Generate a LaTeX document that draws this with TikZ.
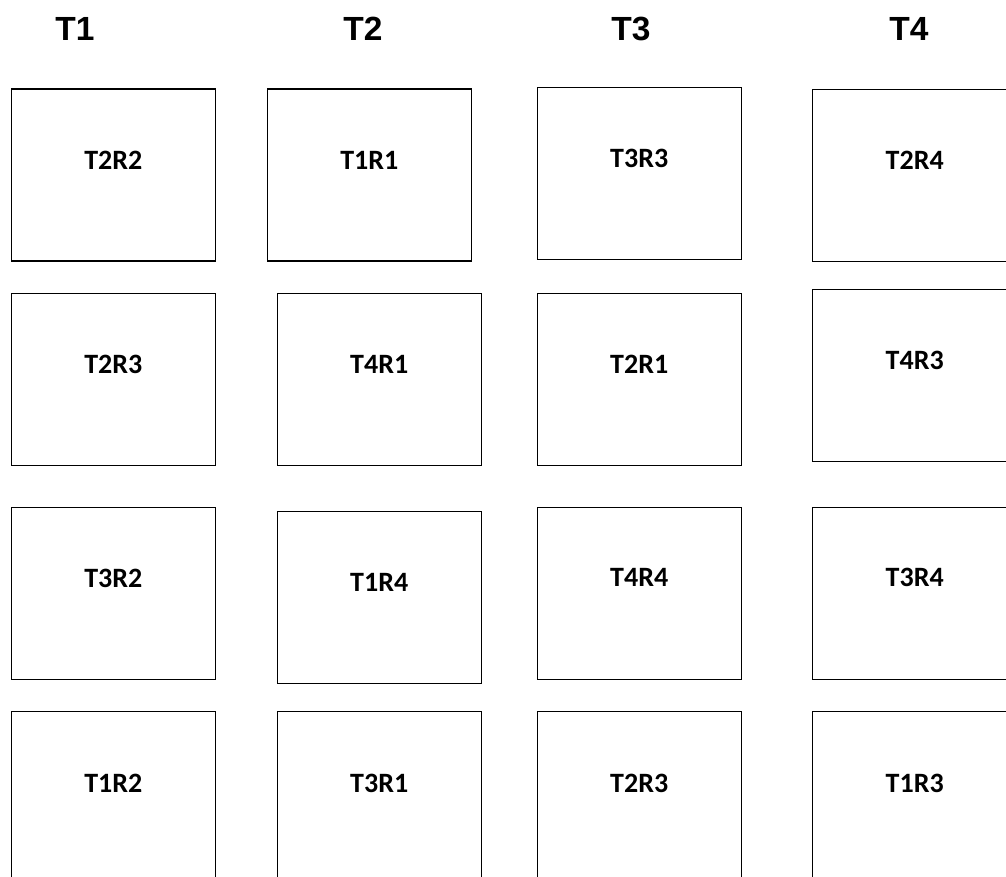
\documentclass[tikz,border=0pt]{standalone}
\usepackage{fontspec}
\usepackage{tikz}
\usetikzlibrary{positioning}
\newfontfamily\headfont{Liberation Sans}
\newfontfamily\cellfont{Carlito}

\begin{document}
\begin{tikzpicture}[x=1pt, y=-1pt,
		cell/.style={draw, line width=1.2pt, rectangle, inner sep=0pt, minimum width=204pt, minimum height=172pt},
		head/.style={font=\headfont\bfseries\fontsize{33.5}{40}\selectfont, inner sep=0pt},
		tag/.style={font=\cellfont\bfseries\fontsize{28}{34}\selectfont, inner sep=0pt}]
			\useasboundingbox (0, 0) rectangle (1006, 877);
			\clip (0, 0) rectangle (1006, 877);
			% Column heads:
			\node[head](H1) at (75, 29){T1};
			\node[head](H2) at (363, 29){T2};
			\node[head](H3) at (631, 29){T3};
			\node[head](H4) at (909, 29){T4};
			% Cells, row by row:
			\node[cell](C1) at (113.3, 175){} node[tag] at ([yshift=-72pt]C1.north){T2R2};
			\node[cell](C2) at (369.3, 175){} node[tag] at ([yshift=-72pt]C2.north){T1R1};
			\node[cell](C3) at (639.2, 173.3){} node[tag] at ([yshift=-72pt]C3.north){T3R3};
			\node[cell](C4) at (914.7, 175.2){} node[tag] at ([yshift=-72pt]C4.north){T2R4};
			\node[cell](C5) at (113.3, 379.5){} node[tag] at ([yshift=-72pt]C5.north){T2R3};
			\node[cell](C6) at (379.2, 379.5){} node[tag] at ([yshift=-72pt]C6.north){T4R1};
			\node[cell](C7) at (639.2, 379.3){} node[tag] at ([yshift=-72pt]C7.north){T2R1};
			\node[cell](C8) at (914.7, 375.2){} node[tag] at ([yshift=-72pt]C8.north){T4R3};
			\node[cell](C9) at (113.3, 593.3){} node[tag] at ([yshift=-72pt]C9.north){T3R2};
			\node[cell](C10) at (379.2, 597.5){} node[tag] at ([yshift=-72pt]C10.north){T1R4};
			\node[cell](C11) at (639.2, 593.5){} node[tag] at ([yshift=-71pt]C11.north){T4R4};
			\node[cell](C12) at (914.7, 593.5){} node[tag] at ([yshift=-71pt]C12.north){T3R4};
			\node[cell](C13) at (113.3, 797.7){} node[tag] at ([yshift=-72pt]C13.north){T1R2};
			\node[cell](C14) at (379.2, 797.7){} node[tag] at ([yshift=-72pt]C14.north){T3R1};
			\node[cell](C15) at (639.2, 797.7){} node[tag] at ([yshift=-72pt]C15.north){T2R3};
			\node[cell](C16) at (914.7, 797.7){} node[tag] at ([yshift=-72pt]C16.north){T1R3};
		\end{tikzpicture}
\end{document}
